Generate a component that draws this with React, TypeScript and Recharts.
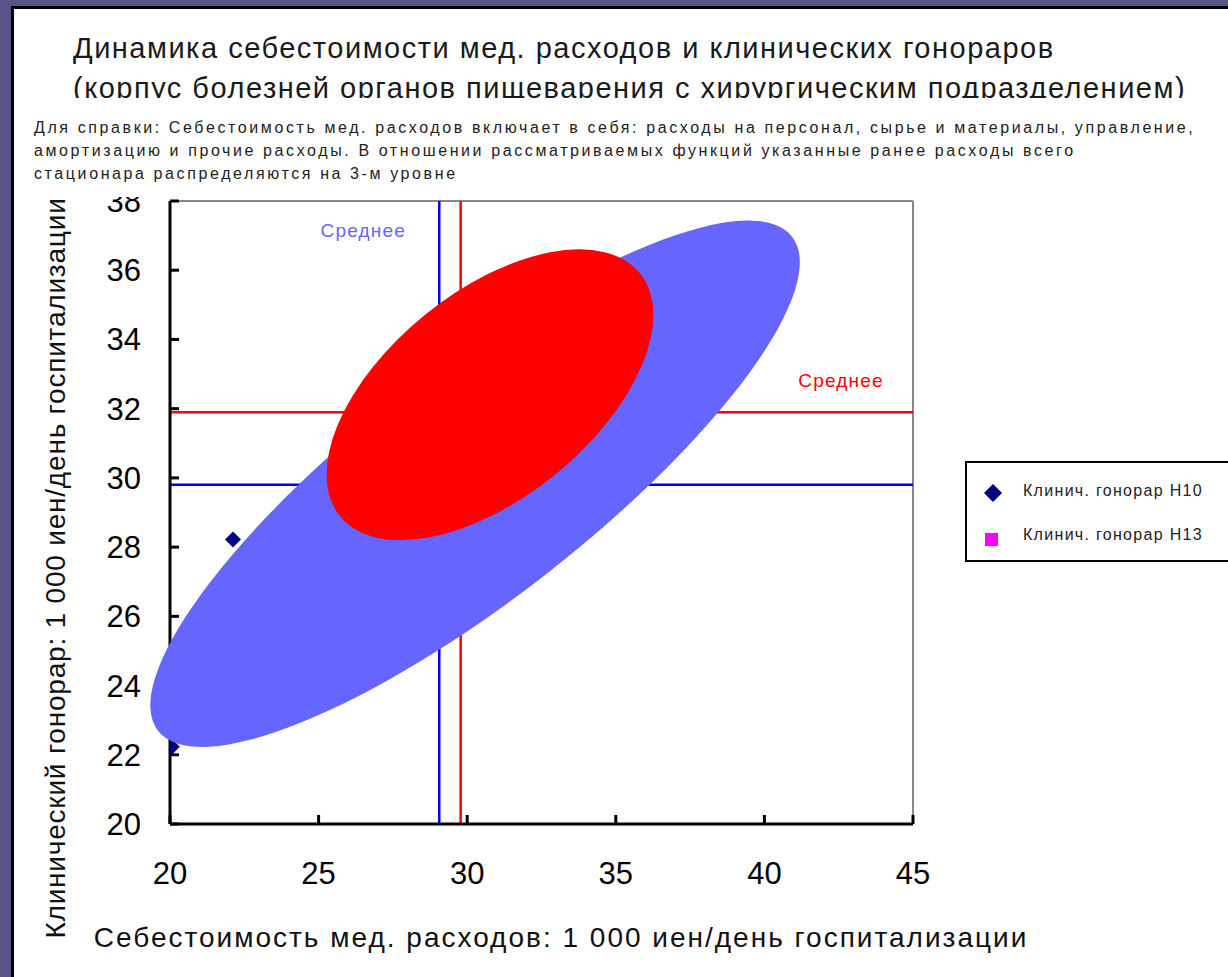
import { ScatterChart, Scatter, XAxis, YAxis, ReferenceLine, ReferenceArea } from 'recharts';

// Клинический гонорар по годам (x — себестоимость, y — гонорар, тыс. иен/день)
const pointsH10 = [
  { x: 22.12, y: 28.22 },
  { x: 20.06, y: 22.23 },
];
const pointsH13: { x: number; y: number }[] = [];

const xTicks = [20, 25, 30, 35, 40, 45];
const yTicks = [20, 22, 24, 26, 28, 30, 32, 34, 36, 38];

// средние значения
const meanCostBlue = 29.06;
const meanCostRed = 29.78;
const meanFeeBlue = 29.8;
const meanFeeRed = 31.9;

// области разброса: концы большой оси [x1, y1, x2, y2] и отношение осей
const areaBlue = { x1: 19.6, y1: 22.69, x2: 40.93, y2: 36.97, ratio: 0.286 };
const areaRed = { x1: 25.72, y1: 28.89, x2: 35.81, y2: 35.91, ratio: 0.534 };

const FONT = '"Liberation Sans", Arial, sans-serif';

function ellipseShape(fill: string, ratio: number) {
  return (props: any) => {
    const { x, y, width, height } = props;
    const cx = x + width / 2;
    const cy = y + height / 2;
    const rx = Math.hypot(width, height) / 2;
    const ry = rx * ratio;
    const angle = (-Math.atan2(height, width) * 180) / Math.PI;
    return (
      <ellipse cx={cx} cy={cy} rx={rx} ry={ry} fill={fill} transform={`rotate(${angle} ${cx} ${cy})`} />
    );
  };
}

const Diamond = (props: any) => {
  const { cx, cy } = props;
  const r = 8;
  return <polygon points={`${cx},${cy - r} ${cx + r},${cy} ${cx},${cy + r} ${cx - r},${cy}`} fill="#000080" />;
};

const Square = (props: any) => {
  const { cx, cy } = props;
  return <rect x={cx - 6} y={cy - 6} width={12} height={12} fill="#ff00ff" />;
};

const XTick = (props: any) => {
  const { x, y, payload } = props;
  return (
    <g>
      <line x1={x} y1={y} x2={x} y2={y - 9} stroke="#000" strokeWidth={3} />
      <text x={x} y={y + 60} textAnchor="middle" fontSize={31} fill="#000" fontFamily={FONT}>
        {payload.value}
      </text>
    </g>
  );
};

const YTick = (props: any) => {
  const { x, y, payload } = props;
  return (
    <g>
      <line x1={x} y1={y} x2={x + 9} y2={y} stroke="#000" strokeWidth={3} />
      <text x={x - 29} y={y + 11} textAnchor="end" fontSize={31} fill="#000" fontFamily={FONT}>
        {payload.value}
      </text>
    </g>
  );
};

function meanLabel(text: string, color: string, dx: number, dy: number) {
  return (props: any) => {
    const vb = props.viewBox;
    return (
      <text
        x={vb.x + dx}
        y={vb.y + dy}
        fill={color}
        fontSize={19}
        letterSpacing={1.2}
        fontFamily={FONT}
        textAnchor="middle"
      >
        {text}
      </text>
    );
  };
}

export default function App() {
  return (
    <div
      style={{
        position: 'fixed',
        left: 0,
        top: 0,
        width: 1228,
        height: 977,
        overflow: 'hidden',
        background: '#55558a',
        fontFamily: FONT,
      }}
    >
      <div
        style={{
          position: 'absolute',
          left: 11,
          top: 6,
          width: 1240,
          height: 990,
          background: '#fff',
          borderTop: '3px solid #000',
          borderLeft: '3px solid #000',
        }}
      />
      <div
        style={{
          position: 'absolute',
          left: 73,
          top: 28,
          width: 1150,
          height: 72,
          overflow: 'hidden',
          fontSize: 29,
          letterSpacing: 1.5,
          lineHeight: '40px',
          color: '#1a1a1a',
          whiteSpace: 'nowrap',
        }}
      >
        Динамика себестоимости мед. расходов и клинических гонораров
        <br />
        (корпус болезней органов пищеварения с хирургическим подразделением)
      </div>

      <div style={{ position: 'absolute', left: 0, top: 0 }}>
        <ScatterChart width={1228} height={977} margin={{ top: 201, right: 315, bottom: 93, left: 110 }}>
          <XAxis
            type="number"
            dataKey="x"
            domain={[20, 45]}
            ticks={xTicks}
            interval={0}
            height={60}
            tickSize={0}
            tickMargin={0}
            tickLine={false}
            tick={<XTick />}
            axisLine={{ stroke: '#000', strokeWidth: 3 }}
            allowDataOverflow
            label={{
              content: () => (
                <text
                  x={561}
                  y={947}
                  textAnchor="middle"
                  fontSize={28}
                  letterSpacing={2}
                  fill="#111"
                  fontFamily={FONT}
                >
                  Себестоимость мед. расходов: 1 000 иен/день госпитализации
                </text>
              ),
            }}
          />
          <YAxis
            type="number"
            dataKey="y"
            domain={[20, 38]}
            ticks={yTicks}
            interval={0}
            width={60}
            tickSize={0}
            tickMargin={0}
            tickLine={false}
            tick={<YTick />}
            axisLine={{ stroke: '#000', strokeWidth: 3 }}
            allowDataOverflow
            label={{
              content: () => (
                <text
                  transform="translate(65 568) rotate(-90)"
                  textAnchor="middle"
                  fontSize={28}
                  letterSpacing={0.8}
                  fill="#111"
                  fontFamily={FONT}
                >
                  Клинический гонорар: 1 000 иен/день госпитализации
                </text>
              ),
            }}
          />
          <ReferenceLine y={38} stroke="#888" strokeWidth={2} />
          <ReferenceLine x={45} stroke="#888" strokeWidth={2} />

          <Scatter name="Клинич. гонорар H10" data={pointsH10} shape={<Diamond />} isAnimationActive={false} />
          <Scatter name="Клинич. гонорар H13" data={pointsH13} shape={<Square />} isAnimationActive={false} />

          <ReferenceLine x={meanCostBlue} stroke="#0000ff" strokeWidth={2.5} label={meanLabel('Среднее', '#6666ff', -76, 36)} />
          <ReferenceLine x={meanCostRed} stroke="#ff0000" strokeWidth={2.5} />
          <ReferenceLine y={meanFeeBlue} stroke="#0000ff" strokeWidth={2.5} />
          <ReferenceLine y={meanFeeRed} stroke="#ff0000" strokeWidth={2.5} label={meanLabel('Среднее', '#ff0000', 671, -25)} />

          <ReferenceArea
            x1={areaBlue.x1}
            y1={areaBlue.y1}
            x2={areaBlue.x2}
            y2={areaBlue.y2}
            ifOverflow="visible"
            zIndex={3000}
            shape={ellipseShape('#6666ff', areaBlue.ratio)}
          />
          <ReferenceArea
            x1={areaRed.x1}
            y1={areaRed.y1}
            x2={areaRed.x2}
            y2={areaRed.y2}
            ifOverflow="visible"
            zIndex={3010}
            shape={ellipseShape('#ff0000', areaRed.ratio)}
          />
        </ScatterChart>
      </div>

      <div
        style={{
          position: 'absolute',
          left: 14,
          top: 98,
          width: 1214,
          height: 99,
          background: '#fff',
        }}
      >
        <div
          style={{
            position: 'absolute',
            left: 20,
            top: 18,
            fontSize: 16,
            letterSpacing: 2.6,
            lineHeight: '23px',
            color: '#222',
            whiteSpace: 'nowrap',
          }}
        >
          Для справки: Себестоимость мед. расходов включает в себя: расходы на персонал, сырье и материалы, управление,
          <br />
          амортизацию и прочие расходы. В отношении рассматриваемых функций указанные ранее расходы всего
          <br />
          стационара распределяются на 3-м уровне
        </div>
      </div>

      <div
        style={{
          position: 'absolute',
          left: 965,
          top: 461,
          width: 280,
          height: 97,
          border: '2px solid #000',
          background: '#fff',
          fontSize: 16,
          letterSpacing: 1.3,
          color: '#222',
        }}
      >
        <svg width={30} height={100} style={{ position: 'absolute', left: 12, top: 0 }}>
          <polygon points="14,21 23,30 14,39 5,30" fill="#000080" />
          <rect x={6} y={70} width={13} height={13} fill="#ff00ff" />
        </svg>
        <div style={{ position: 'absolute', left: 56, top: 19 }}>Клинич. гонорар H10</div>
        <div style={{ position: 'absolute', left: 56, top: 63 }}>Клинич. гонорар H13</div>
      </div>
    </div>
  );
}
